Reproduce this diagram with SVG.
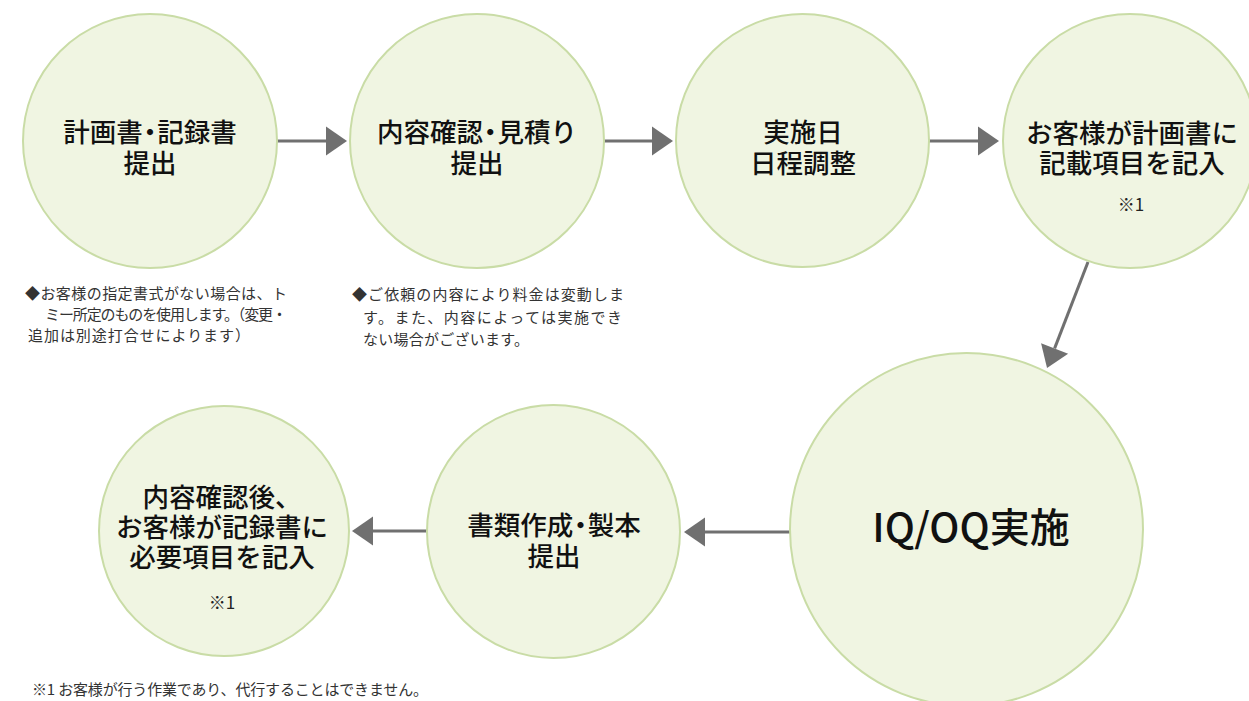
<svg xmlns="http://www.w3.org/2000/svg" width="1249" height="701" viewBox="0 0 1249 701">
<defs>
<style>
.node circle{fill:#f0f5e2;stroke:#c9dca6;stroke-width:2}
.lbl{font-family:"Noto Sans CJK JP","Noto Sans",sans-serif;font-size:26.5px;font-weight:500;fill:#111;text-anchor:middle}
.big{font-size:40px}
.note{font-family:"Noto Sans CJK JP","Noto Sans",sans-serif;font-size:15px;fill:#333}
.mark{font-family:"Noto Sans CJK JP","Noto Sans",sans-serif;font-size:17px;fill:#222;text-anchor:middle}
.conn line{stroke:#707070;stroke-width:3;fill:none;marker-end:url(#ah)}
</style>
<marker id="ah" markerUnits="userSpaceOnUse" viewBox="0 -15 22 30" refX="0" refY="0" markerWidth="22" markerHeight="30" orient="auto" overflow="visible">
<path d="M0,-14.5 L21,0 L0,14.5 z" fill="#707070"/>
</marker>
</defs>
<rect width="1249" height="701" fill="#ffffff"/>
<g class="conn" id="connectors">
<line x1="277" y1="141" x2="326" y2="141"/>
<line x1="604" y1="141" x2="652" y2="141"/>
<line x1="929" y1="141" x2="978" y2="141"/>
<line x1="1088" y1="262" x2="1054.6" y2="348.4"/>
<line x1="790" y1="532" x2="705" y2="532"/>
<line x1="427" y1="531" x2="373" y2="531"/>
</g>
<g class="node" id="n1">
<circle cx="150" cy="141" r="127"/>
<text class="lbl" x="150" y="141.5" dx="0 0 0 -6 -6">計画書・記録書</text>
<text class="lbl" x="150" y="172.5">提出</text>
</g>
<g class="node" id="n2">
<circle cx="477" cy="141" r="127"/>
<text class="lbl" x="477" y="141.5" dx="0 0 0 0 -6 -6">内容確認・見積り</text>
<text class="lbl" x="477" y="172.5">提出</text>
</g>
<g class="node" id="n3">
<circle cx="802.5" cy="140.5" r="126.5"/>
<text class="lbl" x="803" y="141.5">実施日</text>
<text class="lbl" x="803" y="172.5">日程調整</text>
</g>
<g class="node" id="n4">
<circle cx="1130" cy="141" r="127"/>
<text class="lbl" x="1132" y="142.5">お客様が計画書に</text>
<text class="lbl" x="1132" y="172.5">記載項目を記入</text>
<text class="mark" x="1131" y="211">※1</text>
</g>
<g class="node" id="n5">
<circle cx="966.5" cy="529.5" r="176.5"/>
<text class="lbl big" x="971" y="542">IQ/OQ実施</text>
</g>
<g class="node" id="n6">
<circle cx="553.5" cy="531.5" r="126.5"/>
<text class="lbl" x="554" y="534.5" dx="0 0 0 0 -6 -6">書類作成・製本</text>
<text class="lbl" x="554" y="566">提出</text>
</g>
<g class="node" id="n7">
<circle cx="224" cy="531" r="125"/>
<text class="lbl" x="222" y="507">内容確認後、</text>
<text class="lbl" x="222" y="537">お客様が記録書に</text>
<text class="lbl" x="222" y="567">必要項目を記入</text>
<text class="mark" x="222" y="609">※1</text>
</g>
<g id="notes">
<text class="note" x="25" y="299" textLength="262" lengthAdjust="spacing">◆お客様の指定書式がない場合は、ト</text>
<text class="note" x="45" y="320" textLength="242" lengthAdjust="spacing">ミー所定のものを使用します。（変更・</text>
<text class="note" x="28" y="341" textLength="222" lengthAdjust="spacing">追加は別途打合せによります）</text>
<text class="note" x="352" y="300" textLength="272" lengthAdjust="spacing">◆ご依頼の内容により料金は変動しま</text>
<text class="note" x="363" y="323" textLength="259" lengthAdjust="spacing">す。また、内容によっては実施でき</text>
<text class="note" x="363" y="345" textLength="166" lengthAdjust="spacing">ない場合がございます。</text>
<text class="note" x="32" y="695" textLength="396" lengthAdjust="spacing">※1 お客様が行う作業であり、代行することはできません。</text>
</g>
</svg>
